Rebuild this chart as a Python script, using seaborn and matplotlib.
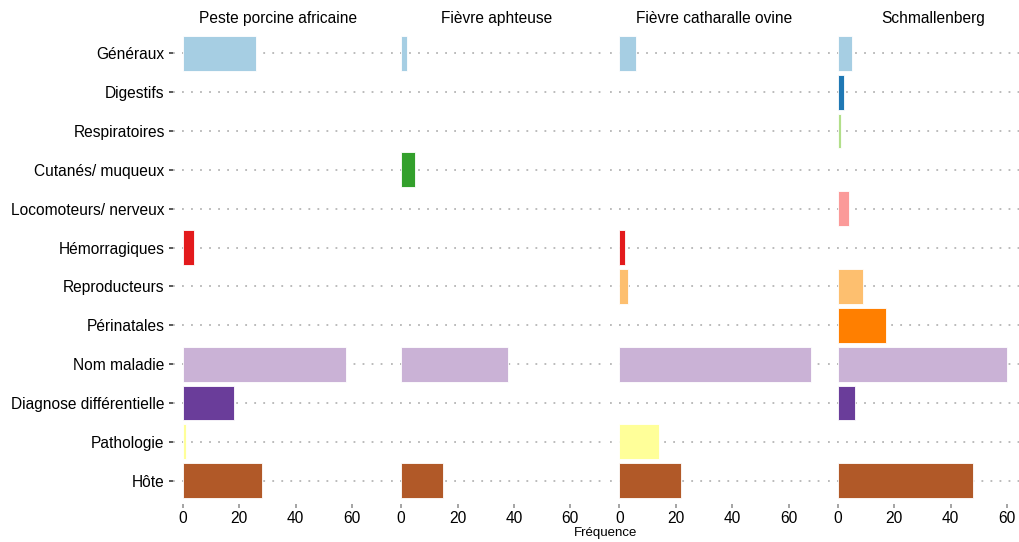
import pandas as pd
import matplotlib
matplotlib.use("Agg")
import matplotlib.pyplot as plt
import seaborn as sns

# symptom categories, top to bottom
categories = ["Généraux", "Digestifs", "Respiratoires", "Cutanés/ muqueux",
              "Locomoteurs/ nerveux", "Hémorragiques", "Reproducteurs",
              "Périnatales", "Nom maladie", "Diagnose différentielle",
              "Pathologie", "Hôte"]

diseases = ["Peste porcine africaine", "Fièvre aphteuse",
            "Fièvre catharalle ovine", "Schmallenberg"]

# frequencies per disease (same order as categories)
ppa = [26, 0, 0, 0, 0, 4, 0, 0, 58, 18, 1, 28]
fa = [2, 0, 0, 5, 0, 0, 0, 0, 38, 0, 0, 15]
fco = [6, 0, 0, 0, 0, 2, 3, 0, 68, 0, 14, 22]
sbv = [5, 2, 1, 0, 4, 0, 9, 17, 60, 6, 0, 48]

values = {diseases[0]: ppa, diseases[1]: fa, diseases[2]: fco, diseases[3]: sbv}

rows = []
for d in diseases:
    for c, v in zip(categories, values[d]):
        if v > 0:
            rows.append({"maladie": d, "categorie": c, "freq": v})
df = pd.DataFrame(rows)

palette = dict(zip(categories, sns.color_palette("Paired", 12)))

sns.set_theme(style="white")
plt.rcParams["font.family"] = ["Liberation Sans", "DejaVu Sans"]
plt.rcParams["text.color"] = "black"

fig = plt.figure(figsize=(10.2, 5.42), dpi=100)
W, H = 1020, 542
lefts = [173, 391.3, 609.6, 828]
panel_w = 210
top_px, bot_px = 30, 504

for i, d in enumerate(diseases):
    ax = fig.add_axes([lefts[i] / W, (H - bot_px) / H, panel_w / W, (bot_px - top_px) / H])
    sub = df[df["maladie"] == d]
    sns.barplot(data=sub, x="freq", y="categorie", order=categories, hue="categorie",
                hue_order=categories, palette=palette, orient="h", width=0.9,
                saturation=1, edgecolor="white", linewidth=0.6, legend=False, ax=ax)
    ax.set_xlim(-3.5, 71)
    ax.set_ylim(11.6, -0.6)
    ax.set_axisbelow(True)
    ax.yaxis.grid(True, linestyle=(0, (1, 4)), color="#b5b5b5", linewidth=1.3)
    ax.xaxis.grid(False)
    for s in ax.spines.values():
        s.set_visible(False)
    ax.set_xticks([0, 20, 40, 60])
    ax.tick_params(axis="x", bottom=True, length=3, color="#999999", labelsize=11.2,
                   labelcolor="black", pad=2)
    if i == 0:
        ax.tick_params(axis="y", left=True, length=3, color="#444444", labelsize=11.2,
                       labelcolor="black", pad=3)
    else:
        ax.tick_params(axis="y", left=False, labelleft=False)
    ax.set_xlabel("")
    ax.set_ylabel("")
    ax.set_title(d, fontsize=11.2, pad=5, color="black")

fig.text(606 / W, 1 - 533 / H, "Fréquence", ha="center", va="center", fontsize=9.5,
         color="black")

fig.savefig("out.png", dpi=100)
